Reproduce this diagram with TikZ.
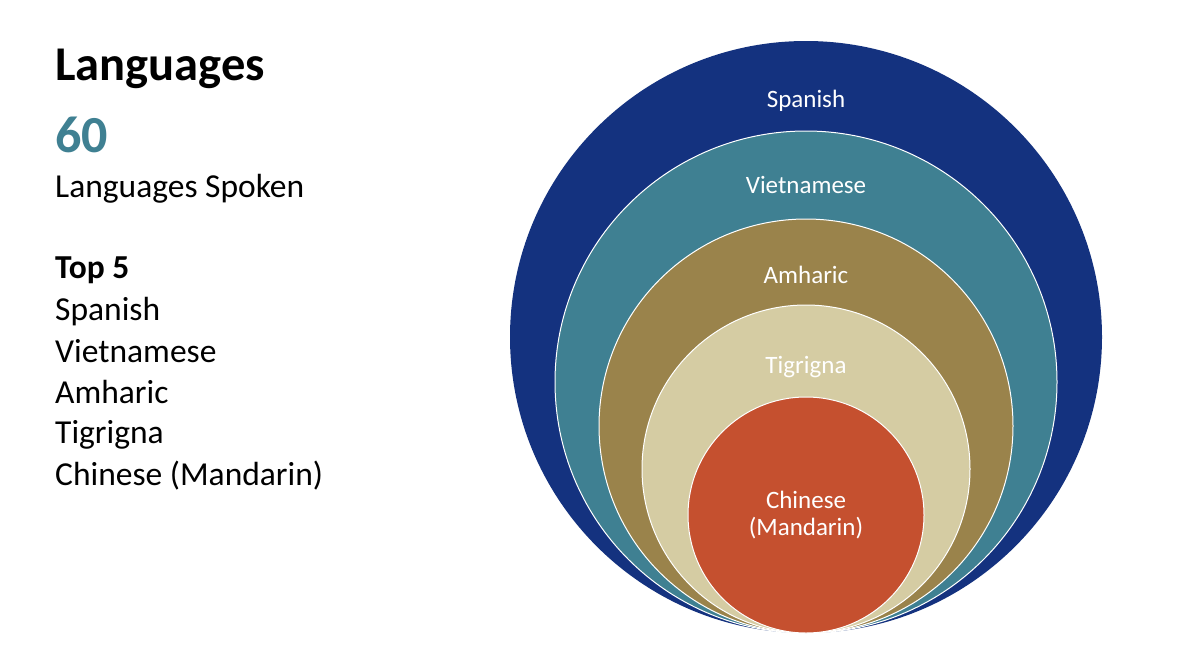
\documentclass[tikz,border=0pt]{standalone}
\usepackage{fontspec}
\setmainfont{Carlito}
\definecolor{navy}{HTML}{14327F}
\definecolor{teal2}{HTML}{3F8092}
\definecolor{brown2}{HTML}{9A834B}
\definecolor{beige2}{HTML}{D5CCA3}
\definecolor{orange2}{HTML}{C5502F}
\begin{document}
\begin{tikzpicture}[x=1pt,y=-1pt,
  ring/.style={draw=white, line width=1pt},
  clabel/.style={anchor=base, inner sep=0pt, text=white, font=\fontsize{25}{30}\selectfont},
  ltext/.style={anchor=base west, inner sep=0pt, font=\fontsize{33.5}{40}\selectfont}]
\useasboundingbox[fill=white] (0,0) rectangle (1200,651);
% rings
\fill[navy] (806,337) circle (296);
\filldraw[ring, fill=teal2] (806,382) circle (251);
\filldraw[ring, fill=brown2] (806,426) circle (207);
\filldraw[ring, fill=beige2] (806,469) circle (164);
\filldraw[ring, fill=orange2] (806,515) circle (118);
% ring labels
\node[clabel] (lsp) at (806,107) {Spanish};
\node[clabel] (lvi) at (806,193) {Vietnamese};
\node[clabel] (lam) at (806,283) {Amharic};
\node[clabel] (lti) at (806,373) {Tigrigna};
\node[clabel] (lch) at (806,508) {Chinese};
\node[clabel] (lma) at (806,535) {(Mandarin)};
% left text
\node[anchor=base west, inner sep=0pt, font=\fontsize{48.5}{58}\selectfont\bfseries] (title) at (55,80) {Languages};
\node[anchor=base west, inner sep=0pt, text=teal2, font=\fontsize{52}{62}\selectfont\bfseries] (num) at (55,152) {60};
\node[ltext] (spoken) at (55,197) {Languages Spoken};
\node[ltext, font=\fontsize{33.5}{40}\selectfont\bfseries] (top) at (55,278) {Top 5};
\node[ltext] (t1) at (55,320) {Spanish};
\node[ltext] (t2) at (55,362) {Vietnamese};
\node[ltext] (t3) at (55,403) {Amharic};
\node[ltext] (t4) at (55,443) {Tigrigna};
\node[ltext] (t5) at (55,485) {Chinese (Mandarin)};
\end{tikzpicture}
\end{document}
